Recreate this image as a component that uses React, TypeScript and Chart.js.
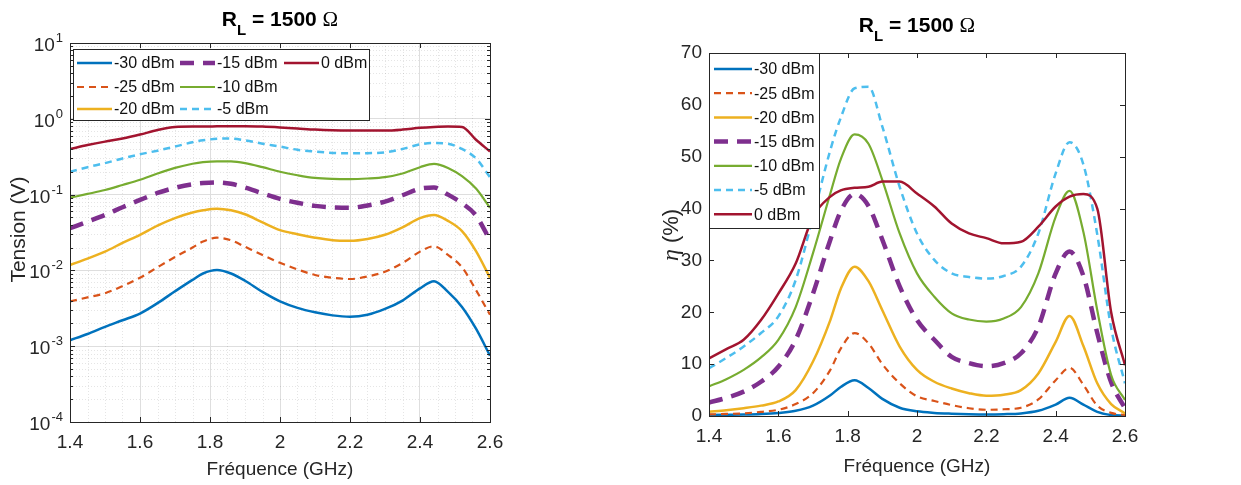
import React, { useEffect, useRef } from "react";
import { Chart, registerables } from "chart.js";

Chart.register(...registerables);

const FONT = "'Liberation Sans', Arial, Helvetica, sans-serif";
const SERIF = "'Liberation Serif', 'Times New Roman', serif";
const TEXT = "#262626";

// ---------- data ----------
const freq = [1.4, 1.45, 1.5, 1.55, 1.6, 1.65, 1.7, 1.75, 1.78, 1.82, 1.86, 1.9, 1.95, 2.0, 2.05, 2.1, 2.15, 2.2, 2.25, 2.3, 2.35, 2.4, 2.44, 2.48, 2.52, 2.56, 2.6];
const seriesLabels = ["-30 dBm", "-25 dBm", "-20 dBm", "-15 dBm", "-10 dBm", "-5 dBm", "0 dBm"];
const seriesColors = ["#0072BD", "#D95319", "#EDB120", "#7E2F8E", "#77AC30", "#4DBEEE", "#A2142F"];
const seriesWidths = [2.5, 2.2, 2.5, 4.5, 2.2, 2.5, 2.5];
const seriesDashes = [[], [7, 5], [], [14, 9], [], [7, 5], []];

// Tension (V), left chart
const tensionM30 = [0.0012, 0.00145, 0.0018, 0.0022, 0.0027, 0.0037, 0.0053, 0.0075, 0.0091, 0.0101, 0.0091, 0.0073, 0.0052, 0.0039, 0.0032, 0.0028, 0.00255, 0.00245, 0.0026, 0.0031, 0.004, 0.0058, 0.0072, 0.0052, 0.0033, 0.0017, 0.00075];
const tensionM25 = [0.0039, 0.0044, 0.005, 0.0062, 0.008, 0.011, 0.015, 0.02, 0.024, 0.027, 0.025, 0.0205, 0.016, 0.0126, 0.0103, 0.0087, 0.008, 0.0077, 0.0083, 0.0096, 0.0125, 0.0177, 0.0208, 0.016, 0.011, 0.0055, 0.0026];
const tensionM20 = [0.0118, 0.0143, 0.0177, 0.023, 0.0295, 0.039, 0.049, 0.058, 0.062, 0.065, 0.062, 0.055, 0.043, 0.034, 0.03, 0.027, 0.025, 0.0246, 0.026, 0.0295, 0.037, 0.049, 0.054, 0.045, 0.033, 0.018, 0.008];
const tensionM15 = [0.036, 0.044, 0.054, 0.068, 0.085, 0.105, 0.123, 0.137, 0.142, 0.145, 0.139, 0.124, 0.104, 0.088, 0.078, 0.071, 0.068, 0.067, 0.072, 0.081, 0.098, 0.12, 0.124, 0.1, 0.077, 0.053, 0.025];
const tensionM10 = [0.091, 0.102, 0.115, 0.134, 0.157, 0.19, 0.225, 0.255, 0.268, 0.275, 0.274, 0.26, 0.23, 0.2, 0.18, 0.166, 0.161, 0.16, 0.163, 0.17, 0.19, 0.23, 0.255, 0.225, 0.175, 0.12, 0.067];
const tensionM5 = [0.2, 0.23, 0.26, 0.3, 0.34, 0.38, 0.43, 0.49, 0.52, 0.545, 0.55, 0.52, 0.47, 0.43, 0.39, 0.37, 0.355, 0.35, 0.352, 0.36, 0.4, 0.46, 0.48, 0.47, 0.4, 0.3, 0.17];
const tension0 = [0.4, 0.45, 0.5, 0.55, 0.62, 0.71, 0.78, 0.79, 0.79, 0.795, 0.8, 0.8, 0.79, 0.77, 0.745, 0.72, 0.705, 0.7, 0.7, 0.7, 0.72, 0.76, 0.78, 0.79, 0.78, 0.53, 0.37];

// Efficiency (%), right chart
const effM30 = [0.2, 0.25, 0.3, 0.4, 0.6, 1.0, 2.0, 4.0, 5.6, 6.9, 5.4, 3.3, 1.6, 0.9, 0.6, 0.45, 0.35, 0.3, 0.35, 0.5, 1.0, 2.2, 3.5, 2.2, 0.8, 0.2, 0.05];
const effM25 = [0.3, 0.4, 0.5, 0.8, 1.2, 2.3, 4.4, 8.9, 13.0, 16.0, 14.0, 10.0, 6.3, 3.8, 2.9, 2.1, 1.5, 1.2, 1.3, 1.6, 3.2, 6.9, 9.3, 6.0, 2.0, 0.6, 0.2];
const effM20 = [0.8, 1.1, 1.5, 2.0, 2.8, 5.0, 10.5, 18.5, 24.5, 28.8, 26.0, 20.4, 13.4, 8.9, 6.6, 5.3, 4.4, 3.9, 4.1, 5.0, 8.2, 14.3, 19.3, 13.5, 6.3, 2.3, 0.5];
const effM15 = [2.6, 3.5, 4.7, 6.6, 9.5, 14.7, 23.6, 34.0, 39.5, 42.8, 40.5, 34.0, 25.0, 18.5, 14.7, 11.4, 10.2, 9.6, 10.2, 12.1, 17.2, 27.5, 31.7, 27.0, 16.0, 6.5, 1.5];
const effM10 = [5.7, 7.1, 8.9, 11.3, 14.7, 21.0, 31.4, 42.9, 49.5, 54.3, 52.5, 45.5, 35.2, 27.5, 23.0, 19.8, 18.6, 18.2, 18.8, 21.0, 27.5, 38.4, 43.4, 35.5, 20.4, 7.9, 3.1];
const effM5 = [9.2, 11.2, 13.4, 16.0, 19.2, 26.2, 38.4, 51.3, 57.5, 63.2, 63.5, 55.8, 44.2, 35.2, 30.1, 27.5, 26.8, 26.5, 27.0, 28.8, 35.2, 46.8, 52.8, 48.5, 35.0, 17.0, 6.3];
const eff0 = [11.1, 12.9, 14.7, 18.5, 23.6, 29.4, 38.4, 42.3, 43.5, 44.0, 44.2, 45.2, 45.2, 42.9, 40.4, 37.1, 35.2, 34.3, 33.3, 33.6, 36.5, 40.4, 42.3, 42.8, 40.0, 20.0, 9.8];

const xTicks = [1.4, 1.6, 1.8, 2.0, 2.2, 2.4, 2.6];
const xMinorStep = 0.05;
const logExponents = [-4, -3, -2, -1, 0, 1];
const effTicks = [0, 10, 20, 30, 40, 50, 60, 70];

const titleMain = " = 1500 ";
const xTitle = "Fréquence (GHz)";
const leftYTitle = "Tension (V)";

// ---------- helpers ----------
function makeDatasets(series: number[][]) {
  return series.map((vals, i) => ({
    label: seriesLabels[i],
    data: freq.map((f, j) => ({ x: f, y: vals[j] })),
    borderColor: seriesColors[i],
    backgroundColor: seriesColors[i],
    borderWidth: seriesWidths[i],
    borderDash: seriesDashes[i],
    pointRadius: 0,
    cubicInterpolationMode: "monotone",
    fill: false,
    order: seriesLabels.length - 1 - i,
  }));
}

function drawTitle(ctx: CanvasRenderingContext2D, cx: number, baseline: number) {
  const parts = [
    { t: "R", f: `bold 21px ${FONT}`, dy: 0 },
    { t: "L", f: `bold 15px ${FONT}`, dy: 9 },
    { t: titleMain, f: `bold 21px ${FONT}`, dy: 0 },
    { t: "Ω", f: `21px ${SERIF}`, dy: 0 },
  ];
  let total = 0;
  for (const p of parts) { ctx.font = p.f; total += ctx.measureText(p.t).width; }
  let x = cx - total / 2;
  ctx.fillStyle = "#000";
  ctx.textAlign = "left";
  ctx.textBaseline = "alphabetic";
  for (const p of parts) {
    ctx.font = p.f;
    ctx.fillText(p.t, x, baseline + p.dy);
    x += ctx.measureText(p.t).width;
  }
}

function drawBoxAndTicks(ctx: CanvasRenderingContext2D, a: any, xs: any, ys: any, yMajor: number[], yMinor: number[]) {
  ctx.save();
  ctx.strokeStyle = TEXT;
  ctx.lineWidth = 1;
  ctx.setLineDash([]);
  ctx.strokeRect(Math.round(a.left) + 0.5, Math.round(a.top) + 0.5, Math.round(a.right - a.left), Math.round(a.bottom - a.top));
  ctx.beginPath();
  for (const v of xTicks) {
    const px = Math.round(xs.getPixelForValue(v)) + 0.5;
    ctx.moveTo(px, a.bottom); ctx.lineTo(px, a.bottom - 5);
    ctx.moveTo(px, a.top); ctx.lineTo(px, a.top + 5);
  }
  for (const v of yMajor) {
    const py = Math.round(ys.getPixelForValue(v)) + 0.5;
    ctx.moveTo(a.left, py); ctx.lineTo(a.left + 5, py);
    ctx.moveTo(a.right, py); ctx.lineTo(a.right - 5, py);
  }
  for (const v of yMinor) {
    const py = Math.round(ys.getPixelForValue(v)) + 0.5;
    ctx.moveTo(a.left, py); ctx.lineTo(a.left + 3, py);
    ctx.moveTo(a.right, py); ctx.lineTo(a.right - 3, py);
  }
  ctx.stroke();
  ctx.restore();
}

function drawLegend(ctx: CanvasRenderingContext2D, box: { x: number; y: number; w: number; h: number }, entries: { i: number; x: number; y: number }[], lineLen: number) {
  ctx.save();
  ctx.fillStyle = "#fff";
  ctx.fillRect(box.x, box.y, box.w, box.h);
  ctx.strokeStyle = TEXT;
  ctx.lineWidth = 1;
  ctx.setLineDash([]);
  ctx.strokeRect(box.x + 0.5, box.y + 0.5, box.w, box.h);
  ctx.font = `16px ${FONT}`;
  ctx.textBaseline = "middle";
  ctx.textAlign = "left";
  for (const e of entries) {
    ctx.strokeStyle = seriesColors[e.i];
    ctx.lineWidth = seriesWidths[e.i];
    ctx.setLineDash(seriesDashes[e.i]);
    ctx.beginPath();
    ctx.moveTo(e.x, e.y);
    ctx.lineTo(e.x + lineLen, e.y);
    ctx.stroke();
    ctx.setLineDash([]);
    ctx.fillStyle = "#111";
    ctx.fillText(seriesLabels[e.i], e.x + lineLen + 2, e.y + 1);
  }
  ctx.restore();
}

function drawXTitle(ctx: CanvasRenderingContext2D, cx: number, cy: number) {
  ctx.save();
  ctx.font = `19px ${FONT}`;
  ctx.fillStyle = TEXT;
  ctx.textAlign = "center";
  ctx.textBaseline = "middle";
  ctx.fillText(xTitle, cx, cy);
  ctx.restore();
}

// ---------- plugins ----------
const leftPlugin = {
  id: "leftDecor",
  beforeDatasetsDraw(chart: any) {
    const { ctx, chartArea: a, scales } = chart;
    const xs = scales.x, ys = scales.y;
    ctx.save();
    ctx.beginPath();
    ctx.rect(a.left, a.top, a.right - a.left, a.bottom - a.top);
    ctx.clip();
    ctx.strokeStyle = "rgba(0,0,0,0.10)";
    ctx.lineWidth = 1;
    ctx.setLineDash([1, 2]);
    ctx.beginPath();
    const n = Math.round((xTicks[xTicks.length - 1] - xTicks[0]) / xMinorStep);
    for (let k = 0; k <= n; k++) {
      if (k % 4 === 0) continue;
      const px = Math.round(xs.getPixelForValue(xTicks[0] + k * xMinorStep)) + 0.5;
      ctx.moveTo(px, a.top); ctx.lineTo(px, a.bottom);
    }
    for (let e = -4; e < 1; e++) {
      for (let m = 2; m <= 9; m++) {
        const py = Math.round(ys.getPixelForValue(m * Math.pow(10, e))) + 0.5;
        ctx.moveTo(a.left, py); ctx.lineTo(a.right, py);
      }
    }
    ctx.stroke();
    ctx.restore();
  },
  afterDatasetsDraw(chart: any) {
    const { ctx, chartArea: a, scales } = chart;
    const xs = scales.x, ys = scales.y;
    const minor: number[] = [];
    for (let e = -4; e < 1; e++) for (let m = 2; m <= 9; m++) minor.push(m * Math.pow(10, e));
    drawBoxAndTicks(ctx, a, xs, ys, logExponents.map((e) => Math.pow(10, e)), minor);

    // y tick labels 10^n
    ctx.save();
    ctx.fillStyle = TEXT;
    ctx.textAlign = "right";
    ctx.textBaseline = "alphabetic";
    for (const e of logExponents) {
      const py = ys.getPixelForValue(Math.pow(10, e));
      const exp = String(e);
      ctx.font = `13px ${FONT}`;
      const ew = ctx.measureText(exp).width;
      const right = a.left - 7;
      ctx.fillText(exp, right, py - 1);
      ctx.font = `19px ${FONT}`;
      ctx.fillText("10", right - ew - 1, py + 8);
    }
    ctx.restore();

    // y title
    ctx.save();
    ctx.translate(19, (a.top + a.bottom) / 2 - 3);
    ctx.rotate(-Math.PI / 2);
    ctx.font = `21px ${FONT}`;
    ctx.fillStyle = TEXT;
    ctx.textAlign = "center";
    ctx.textBaseline = "middle";
    ctx.fillText(leftYTitle, 0, 0);
    ctx.restore();

    drawXTitle(ctx, (a.left + a.right) / 2, 470);
    drawTitle(ctx, (a.left + a.right) / 2, 26);

    const L = a.left;
    drawLegend(ctx, { x: L + 3, y: 49, w: 296, h: 71 }, [
      { i: 0, x: L + 7, y: 63 }, { i: 1, x: L + 7, y: 87 }, { i: 2, x: L + 7, y: 109 },
      { i: 3, x: L + 110, y: 63 }, { i: 4, x: L + 110, y: 87 }, { i: 5, x: L + 110, y: 109 },
      { i: 6, x: L + 214, y: 63 },
    ], 35);
  },
};

const rightPlugin = {
  id: "rightDecor",
  afterDatasetsDraw(chart: any) {
    const { ctx, chartArea: a, scales } = chart;
    drawBoxAndTicks(ctx, a, scales.x, scales.y, effTicks, []);

    // y title: italic eta + (%)
    ctx.save();
    ctx.translate(52, 235);
    ctx.rotate(-Math.PI / 2);
    const p1 = "η", p2 = " (%)";
    ctx.font = `italic 24px ${SERIF}`;
    const w1 = ctx.measureText(p1).width;
    ctx.font = `22px ${FONT}`;
    const w2 = ctx.measureText(p2).width;
    const x = -(w1 + w2) / 2;
    ctx.fillStyle = TEXT;
    ctx.textBaseline = "middle";
    ctx.textAlign = "left";
    ctx.font = `italic 24px ${SERIF}`;
    ctx.fillText(p1, x, 0);
    ctx.font = `22px ${FONT}`;
    ctx.fillText(p2, x + w1, 0);
    ctx.restore();

    drawXTitle(ctx, (a.left + a.right) / 2, 467);
    drawTitle(ctx, (a.left + a.right) / 2, 32);

    const L = a.left;
    const entries = seriesLabels.map((_, i) => ({ i, x: L + 5, y: 69 + i * 24.2 }));
    drawLegend(ctx, { x: L, y: a.top, w: 110, h: 175 }, entries, 38);
  },
};

// ---------- charts ----------
function fmtX(v: number) {
  return String(Number(v.toFixed(1)));
}

function LeftChart() {
  const ref = useRef<HTMLCanvasElement>(null);
  useEffect(() => {
    const chart = new Chart(ref.current as HTMLCanvasElement, {
      type: "line",
      data: { datasets: makeDatasets([tensionM30, tensionM25, tensionM20, tensionM15, tensionM10, tensionM5, tension0]) as any },
      options: {
        animation: false,
        responsive: false,
        devicePixelRatio: 1,
        layout: { padding: { left: 0, right: 130, top: 43, bottom: 0 } },
        plugins: { legend: { display: false }, tooltip: { enabled: false }, title: { display: false } },
        scales: {
          x: {
            type: "linear",
            min: 1.4,
            max: 2.6,
            afterBuildTicks: (s: any) => { s.ticks = xTicks.map((v) => ({ value: v })); },
            afterFit: (s: any) => { s.height = 63; },
            grid: { color: "#dedede", drawTicks: false },
            border: { display: false },
            ticks: { color: TEXT, font: { family: FONT, size: 19 }, padding: 9, maxRotation: 0, callback: (v: any) => fmtX(Number(v)) },
          },
          y: {
            type: "logarithmic",
            min: 1e-4,
            max: 10,
            afterBuildTicks: (s: any) => { s.ticks = logExponents.map((e) => ({ value: Math.pow(10, e) })); },
            afterFit: (s: any) => { s.width = 70; },
            grid: { color: "#dedede", drawTicks: false },
            border: { display: false },
            ticks: { display: false },
          },
        },
      },
      plugins: [leftPlugin],
    } as any);
    return () => chart.destroy();
  }, []);
  return <canvas ref={ref} width={620} height={485} style={{ display: "block" }} />;
}

function RightChart() {
  const ref = useRef<HTMLCanvasElement>(null);
  useEffect(() => {
    const chart = new Chart(ref.current as HTMLCanvasElement, {
      type: "line",
      data: { datasets: makeDatasets([effM30, effM25, effM20, effM15, effM10, effM5, eff0]) as any },
      options: {
        animation: false,
        responsive: false,
        devicePixelRatio: 1,
        layout: { padding: { left: 0, right: 116, top: 53, bottom: 0 } },
        plugins: { legend: { display: false }, tooltip: { enabled: false }, title: { display: false } },
        scales: {
          x: {
            type: "linear",
            min: 1.4,
            max: 2.6,
            afterBuildTicks: (s: any) => { s.ticks = xTicks.map((v) => ({ value: v })); },
            afterFit: (s: any) => { s.height = 69; },
            grid: { display: false, drawTicks: false },
            border: { display: false },
            ticks: { color: TEXT, font: { family: FONT, size: 19 }, padding: 9, maxRotation: 0, callback: (v: any) => fmtX(Number(v)) },
          },
          y: {
            type: "linear",
            min: 0,
            max: 70,
            afterBuildTicks: (s: any) => { s.ticks = effTicks.map((v) => ({ value: v })); },
            afterFit: (s: any) => { s.width = 89; },
            grid: { display: false, drawTicks: false },
            border: { display: false },
            ticks: { color: TEXT, font: { family: FONT, size: 19 }, padding: 7 },
          },
        },
      },
      plugins: [rightPlugin],
    } as any);
    return () => chart.destroy();
  }, []);
  return <canvas ref={ref} width={621} height={485} style={{ display: "block" }} />;
}

export default function App() {
  return (
    <div style={{ position: "fixed", left: 0, top: 0, width: 1241, height: 485, background: "#fff", display: "flex" }}>
      <LeftChart />
      <RightChart />
    </div>
  );
}
